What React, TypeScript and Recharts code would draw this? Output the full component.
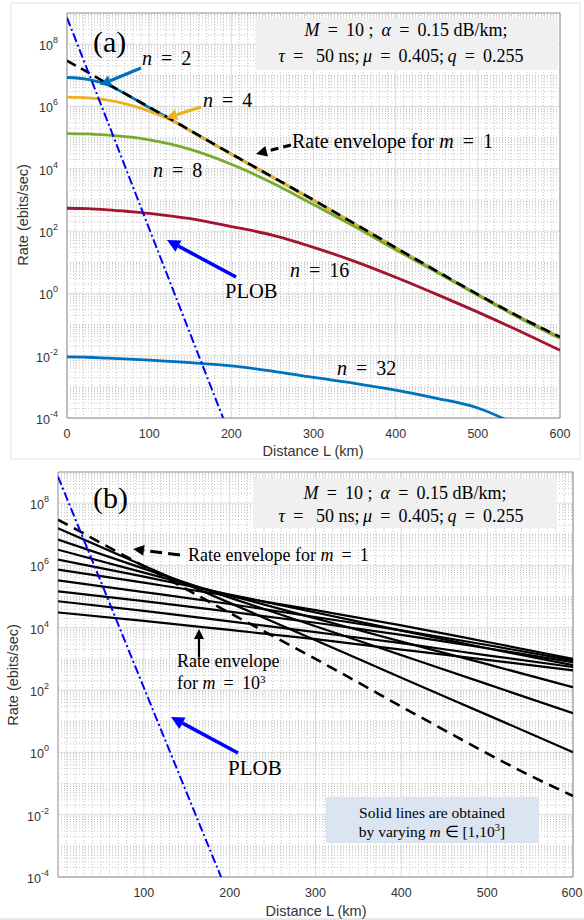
import { CartesianGrid, Line, LineChart, ReferenceArea, ReferenceLine, XAxis, YAxis } from "recharts";

// ---- panel (a): rate vs distance for several n ----
const DIST_A = [0, 25, 50, 75, 100, 125, 150, 200, 250, 300, 350, 400, 450, 500, 550, 600];
const ENVELOPE_M1 = [2.95e7, 1.26e7, 5.25e6, 2.24e6, 9.5e5, 4.1e5, 1.7e5, 3.0e4, 5.5e3, 1.0e3, 174, 29.5, 5.2, 0.93, 0.18, 0.04];
const RATE_N2 = [8.5e6, 7.4e6, 4.9e6, 2.2e6, 9.3e5, 4.0e5, 1.66e5, 2.95e4, 5.4e3, 980, 170, 29, 5.1, 0.91, 0.178, 0.039];
const RATE_N4 = [2.0e6, 1.9e6, 1.6e6, 1.15e6, 7.1e5, 3.8e5, 1.62e5, 2.93e4, 5.35e3, 970, 169, 28.8, 5.05, 0.9, 0.176, 0.039];
const RATE_N8 = [1.35e5, 1.32e5, 1.2e5, 1.05e5, 8.5e4, 6.3e4, 4.2e4, 1.4e4, 3.5e3, 710, 140, 25, 4.8, 0.87, 0.166, 0.036];
const RATE_N16 = [540, 525, 480, 425, 370, 310, 250, 140, 74, 30, 10.7, 3.3, 0.93, 0.25, 0.063, 0.015];
const RATE_N32 = [9.1e-3, 8.9e-3, 8.3e-3, 7.8e-3, 7.2e-3, 6.6e-3, 6.0e-3, 4.7e-3, 3.2e-3, 2.0e-3, 1.3e-3, 7.9e-4, 4.3e-4, 2.1e-4, 5.6e-5, null];

// PLOB bound (shared by both panels)
const DIST_PLOB = [0, 50, 100, 150, 200];
const RATE_PLOB = [7.1e8, 3.0e5, 120, 0.05, 2.1e-5];

// ---- panel (b): sweep over m ----
const DIST_B = [0, 100, 200, 300, 400, 500, 600];
const SWEEP_RATES = [
  [1.55e7, 9.8e5, 6.3e4, 4.0e3, 250, 16, 1.02],
  [6.8e6, 7.9e5, 9.3e4, 1.12e4, 1.32e3, 155, 18],
  [3.2e6, 5.9e5, 1.1e5, 2.0e4, 3.6e3, 680, 123],
  [1.55e6, 4.4e5, 1.17e5, 3.1e4, 8.1e3, 2.2e3, 630],
  [7.4e5, 2.8e5, 1.05e5, 3.7e4, 1.2e4, 3.5e3, 1.0e3],
  [3.3e5, 1.4e5, 5.8e4, 2.2e4, 8.3e3, 2.8e3, 890],
  [1.48e5, 7.2e4, 3.3e4, 1.45e4, 5.9e3, 2.2e3, 790],
  [7.1e4, 3.5e4, 1.6e4, 7.2e3, 3.2e3, 1.3e3, 550],
  [3.1e4, 1.66e4, 8.5e3, 4.3e3, 2.0e3, 930, 430],
];

const Y_TICKS = [1e-4, 1e-2, 1, 1e2, 1e4, 1e6, 1e8];
const X_TICKS_A = [0, 100, 200, 300, 400, 500, 600];
const X_TICKS_B = [100, 200, 300, 400, 500, 600];

const MINOR_Y: number[] = [];
for (let d = -4; d < 9; d++) {
  if (d % 2 !== 0) MINOR_Y.push(10 ** d);
  for (let k = 2; k <= 9; k++) MINOR_Y.push(k * 10 ** d);
}
const MINOR_X: number[] = [];
for (let v = 10; v < 600; v += 10) if (v % 100 !== 0) MINOR_X.push(v);

const rowsA = DIST_A.map((L, i) => ({
  L,
  env: ENVELOPE_M1[i],
  n2: RATE_N2[i],
  n4: RATE_N4[i],
  n8: RATE_N8[i],
  n16: RATE_N16[i],
  n32: RATE_N32[i],
}));
const rowsPlob = DIST_PLOB.map((L, i) => ({ L, v: RATE_PLOB[i] }));
const rowsEnv = DIST_A.map((L, i) => ({ L, v: ENVELOPE_M1[i] }));
const rowsB = DIST_B.map((L, i) => {
  const r: any = { L };
  SWEEP_RATES.forEach((s, k) => (r["m" + k] = s[i]));
  return r;
});

const SANS = "'Liberation Sans', Arial, Helvetica, sans-serif";
const SERIF = "'Liberation Serif', 'Times New Roman', serif";
const AXIS_TXT = "#333";

function XTick({ x, y, payload }: any) {
  return (
    <text x={x} y={y + 12} textAnchor="middle" fontFamily={SANS} fontSize={12.5} fill={AXIS_TXT}>
      {payload.value}
    </text>
  );
}

function YTick({ x, y, payload }: any) {
  const e = Math.round(Math.log10(payload.value));
  return (
    <text x={x - 1} y={y + 6} textAnchor="end" fontFamily={SANS} fontSize={12.5} fill={AXIS_TXT}>
      <tspan>10</tspan>
      <tspan dy={-7} fontSize={9}>
        {e}
      </tspan>
    </text>
  );
}

function Arrow({ x1, y1, x2, y2, color, w = 3, dash, head = 11 }: any) {
  const dx = x2 - x1;
  const dy = y2 - y1;
  const len = Math.hypot(dx, dy);
  const ux = dx / len;
  const uy = dy / len;
  const bx = x2 - ux * head;
  const by = y2 - uy * head;
  const hw = head * 0.5;
  return (
    <g>
      <line x1={x1} y1={y1} x2={bx} y2={by} stroke={color} strokeWidth={w} strokeDasharray={dash} />
      <polygon
        points={`${x2},${y2} ${bx - uy * hw},${by + ux * hw} ${bx + uy * hw},${by - ux * hw}`}
        fill={color}
      />
    </g>
  );
}

const SP = " \u2009";
const I = ({ children }: any) => <tspan fontStyle="italic">{children}</tspan>;

// minor (dotted) and major (solid) grid, MATLAB style
function Grid(ticksX: number[]) {
  return [
    ...MINOR_Y.map((v) => (
      <ReferenceLine key={"hy" + v} y={v} stroke="#c4c4c4" strokeWidth={1} strokeDasharray="1 2" />
    )),
    ...MINOR_X.map((v) => (
      <ReferenceLine key={"vx" + v} x={v} stroke="#c4c4c4" strokeWidth={1} strokeDasharray="1 2" />
    )),
    <CartesianGrid key="major" stroke="#dcdcdc" horizontalValues={Y_TICKS} verticalValues={ticksX} />,
  ];
}

function Frame() {
  return <ReferenceArea x1={0} x2={600} y1={1e-4} y2={1e9} fill="none" stroke="#8c8c8c" strokeWidth={1} />;
}

export default function App() {
  return (
    <div style={{ position: "absolute", left: 0, top: 0, width: 584, height: 920, background: "#fff" }}>
      <div style={{ position: "absolute", left: 0, top: 0 }}>
        <LineChart width={584} height={460} margin={{ top: 13, right: 24, bottom: 0, left: 0 }}>
          {Grid(X_TICKS_A)}
          <XAxis
            type="number"
            dataKey="L"
            domain={[0, 600]}
            ticks={X_TICKS_A}
            height={42}
            axisLine={false}
            tickLine={false}
            tick={<XTick />}
            allowDataOverflow
          />
          <YAxis
            type="number"
            scale="log"
            domain={[1e-4, 1e9]}
            ticks={Y_TICKS}
            width={67}
            axisLine={false}
            tickLine={false}
            tick={<YTick />}
            allowDataOverflow
          />
          <Line data={rowsA} dataKey="n2" type="monotone" stroke="#0072BD" strokeWidth={2.8} dot={false} activeDot={false} isAnimationActive={false} />
          <Line data={rowsA} dataKey="n4" type="monotone" stroke="#EDB120" strokeWidth={2.8} dot={false} activeDot={false} isAnimationActive={false} />
          <Line data={rowsA} dataKey="n8" type="monotone" stroke="#77AC30" strokeWidth={2.8} dot={false} activeDot={false} isAnimationActive={false} />
          <Line data={rowsA} dataKey="n16" type="monotone" stroke="#A2142F" strokeWidth={2.8} dot={false} activeDot={false} isAnimationActive={false} />
          <Line data={rowsA} dataKey="n32" type="monotone" stroke="#0072BD" strokeWidth={2.8} dot={false} activeDot={false} isAnimationActive={false} />
          <Line data={rowsA} dataKey="env" type="monotone" stroke="#000" strokeWidth={2.6} strokeDasharray="10 6" dot={false} activeDot={false} isAnimationActive={false} />
          <Line data={rowsPlob} dataKey="v" type="linear" stroke="#0000FF" strokeWidth={2} strokeDasharray="9 3 2 3" dot={false} activeDot={false} isAnimationActive={false} />
          {Frame()}
        </LineChart>
      </div>

      <div style={{ position: "absolute", left: 0, top: 462 }}>
        <LineChart width={584} height={458} margin={{ top: 10, right: 11, bottom: 0, left: 0 }}>
          {Grid(X_TICKS_B)}
          <XAxis
            type="number"
            dataKey="L"
            domain={[0, 600]}
            ticks={X_TICKS_B}
            height={43}
            axisLine={false}
            tickLine={false}
            tick={<XTick />}
            allowDataOverflow
          />
          <YAxis
            type="number"
            scale="log"
            domain={[1e-4, 1e9]}
            ticks={Y_TICKS}
            width={58}
            axisLine={false}
            tickLine={false}
            tick={<YTick />}
            allowDataOverflow
          />
          {SWEEP_RATES.map((_, k) => (
            <Line
              key={k}
              data={rowsB}
              dataKey={"m" + k}
              type="monotone"
              stroke="#000"
              strokeWidth={2.2}
              dot={false}
              activeDot={false}
              isAnimationActive={false}
            />
          ))}
          <Line data={rowsEnv} dataKey="v" type="monotone" stroke="#000" strokeWidth={2.6} strokeDasharray="11 7" dot={false} activeDot={false} isAnimationActive={false} />
          <Line data={rowsPlob} dataKey="v" type="linear" stroke="#0000FF" strokeWidth={2} strokeDasharray="9 3 2 3" dot={false} activeDot={false} isAnimationActive={false} />
          {Frame()}
        </LineChart>
      </div>

      <svg
        width={584}
        height={920}
        style={{ position: "absolute", left: 0, top: 0, pointerEvents: "none", whiteSpace: "pre" }}
      >
        {/* panel frames */}
        <rect x={11} y={3} width={569} height={456} fill="none" stroke="#e4e4e4" />
        <line x1={0} y1={919} x2={584} y2={919} stroke="#d0d0d0" />

        {/* axis titles */}
        <text x={313} y={456} textAnchor="middle" fontFamily={SANS} fontSize={14.5} fill={AXIS_TXT}>
          Distance L (km)
        </text>
        <text x={0} y={0} transform="translate(28,215) rotate(-90)" textAnchor="middle" fontFamily={SANS} fontSize={14.5} fill={AXIS_TXT}>
          Rate (ebits/sec)
        </text>
        <text x={316} y={916} textAnchor="middle" fontFamily={SANS} fontSize={14.5} fill={AXIS_TXT}>
          Distance L (km)
        </text>
        <text x={0} y={0} transform="translate(18,675) rotate(-90)" textAnchor="middle" fontFamily={SANS} fontSize={14.5} fill={AXIS_TXT}>
          Rate (ebits/sec)
        </text>

        {/* panel (a) annotations */}
        <g fontFamily={SERIF} fill="#000">
          <text x={93} y={52} fontSize={30}>(a)</text>
          <rect x={256} y={18} width={302} height={52} fill="#f0f0f0" />
          <text x={406} y={36} fontSize={18} textAnchor="middle">
            <I>M</I>{SP}={SP}10 ;{SP}<I>α</I>{SP}={SP}0.15 dB/km;
          </text>
          <text x={401} y={62} fontSize={18} textAnchor="middle">
            <I>τ</I>{SP}={SP} 50 ns;{"\u2009"}<I>μ</I>{SP}={SP}0.405;{"\u2009"}<I>q</I>{SP}={SP}0.255
          </text>
          <text x={142} y={65} fontSize={20}><I>n</I>{SP}={SP}2</text>
          <text x={203} y={107} fontSize={20}><I>n</I>{SP}={SP}4</text>
          <text x={153} y={177} fontSize={20}><I>n</I>{SP}={SP}8</text>
          <text x={292} y={148} fontSize={20}>Rate envelope for <I>m</I>{SP}={SP}1</text>
          <text x={290} y={277} fontSize={20}><I>n</I>{SP}={SP}16</text>
          <text x={337} y={375} fontSize={20}><I>n</I>{SP}={SP}32</text>
          <text x={225} y={298} fontSize={20.5}>PLOB</text>
        </g>
        <Arrow x1={141} y1={68} x2={100} y2={85} color="#0072BD" w={3.2} />
        <Arrow x1={201} y1={107} x2={166} y2={118} color="#EDB120" w={3.2} />
        <Arrow x1={291} y1={145} x2={256} y2={154} color="#000" w={3} dash="8 5" />
        <Arrow x1={236} y1={277} x2={167} y2={240} color="#0000FF" w={3.5} head={13} />

        {/* panel (b) annotations */}
        <g fontFamily={SERIF} fill="#000">
          <text x={93} y={508} fontSize={30}>(b)</text>
          <rect x={253} y={478} width={304} height={50} fill="#f0f0f0" />
          <text x={405} y={499} fontSize={18} textAnchor="middle">
            <I>M</I>{SP}={SP}10 ;{SP}<I>α</I>{SP}={SP}0.15 dB/km;
          </text>
          <text x={401} y={522} fontSize={18} textAnchor="middle">
            <I>τ</I>{SP}={SP} 50 ns;{"\u2009"}<I>μ</I>{SP}={SP}0.405;{"\u2009"}<I>q</I>{SP}={SP}0.255
          </text>
          <text x={188} y={561} fontSize={18}>Rate envelope for <I>m</I>{SP}={SP}1</text>
          <text x={177} y={667} fontSize={18}>Rate envelope</text>
          <text x={177} y={689} fontSize={18}>
            for <I>m</I>{SP}={SP}10<tspan dy={-6} fontSize={11}>3</tspan>
          </text>
          <text x={228} y={775} fontSize={21}>PLOB</text>
          <rect x={326} y={797} width={213} height={46} fill="#dbe4f1" />
          <text x={432} y={818} fontSize={15.5} textAnchor="middle">Solid lines are obtained</text>
          <text x={432} y={837} fontSize={15.5} textAnchor="middle">
            by varying <I>m</I> ∈ [1,10<tspan dy={-6} fontSize={10.5}>3</tspan>
            <tspan dy={6}>]</tspan>
          </text>
        </g>
        <Arrow x1={180} y1={555} x2={133} y2={549} color="#000" w={3} dash="12 6" />
        <Arrow x1={199} y1={657} x2={199} y2={629} color="#000" w={2.2} head={10} />
        <Arrow x1={238} y1={753} x2={171} y2={717} color="#0000FF" w={3.5} head={13} />
      </svg>
    </div>
  );
}
